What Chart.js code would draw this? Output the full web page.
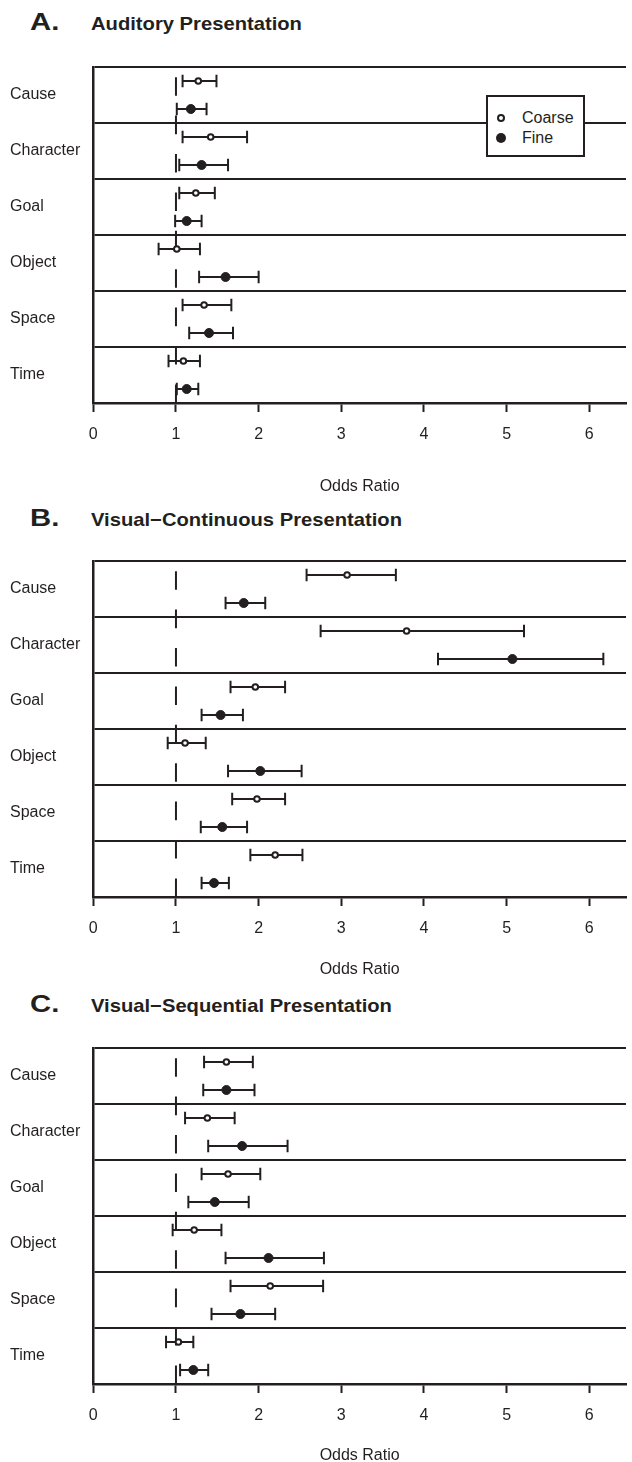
<!DOCTYPE html>
<html><head><meta charset="utf-8">
<script src="https://cdn.jsdelivr.net/npm/chart.js@4.4.1/dist/chart.umd.min.js"></script>
<style>
html,body{margin:0;padding:0;background:#fff;}
#page{position:relative;width:632px;height:1462px;overflow:hidden;font-family:'Liberation Sans',Arial,Helvetica,sans-serif;color:#231f20;background:#fff;}
canvas{position:absolute;left:0;}
.lab{position:absolute;font-weight:bold;white-space:nowrap;transform-origin:0 0;line-height:1;}
.letter{font-size:24px;left:30px;transform:scaleX(1.22);}
.ttl{font-size:18.6px;left:91px;transform:scaleX(1.086);}
.legend{position:absolute;left:486px;top:95px;width:99px;height:62px;box-sizing:border-box;border:2px solid #231f20;background:#fff;font-size:16px;}
.legend .mk{position:absolute;box-sizing:border-box;border-radius:50%;}
.legend .txt{position:absolute;left:34px;line-height:20px;white-space:nowrap;}
</style>
</head>
<body>
<div id="page">
  <div class="lab letter" id="tA">A.</div><div class="lab ttl" id="sA">Auditory Presentation</div>
  <div class="lab letter" id="tB">B.</div><div class="lab ttl" id="sB">Visual−Continuous Presentation</div>
  <div class="lab letter" id="tC">C.</div><div class="lab ttl" id="sC">Visual−Sequential Presentation</div>
  <canvas id="cA"></canvas>
  <canvas id="cB"></canvas>
  <canvas id="cC"></canvas>
  <div class="legend">
    <span class="mk" style="left:9px;top:17px;width:8px;height:8px;border:2px solid #231f20;background:#fff;"></span>
    <span class="txt" style="top:11px;">Coarse</span>
    <span class="mk" style="left:8px;top:36px;width:10px;height:10px;background:#231f20;"></span>
    <span class="txt" style="top:31px;">Fine</span>
  </div>
</div>
<script>
// ---------- data ----------
const categories = ['Cause', 'Character', 'Goal', 'Object', 'Space', 'Time'];
const xTickValues = [0, 1, 2, 3, 4, 5, 6];
const referenceOR = 1;
const seriesNames = ['Coarse', 'Fine'];
const panelTitles = ['Auditory Presentation', 'Visual−Continuous Presentation', 'Visual−Sequential Presentation'];

// A. Auditory
const audCoarseOR = [1.27, 1.42, 1.24, 1.01, 1.34, 1.09];
const audCoarseLo = [1.08, 1.08, 1.04, 0.79, 1.08, 0.91];
const audCoarseHi = [1.49, 1.86, 1.47, 1.29, 1.67, 1.29];
const audFineOR   = [1.18, 1.31, 1.13, 1.60, 1.40, 1.13];
const audFineLo   = [1.01, 1.04, 0.99, 1.28, 1.16, 1.01];
const audFineHi   = [1.37, 1.63, 1.31, 2.00, 1.69, 1.27];

// B. Visual-Continuous
const vcCoarseOR = [3.07, 3.79, 1.96, 1.11, 1.98, 2.20];
const vcCoarseLo = [2.58, 2.75, 1.66, 0.90, 1.68, 1.90];
const vcCoarseHi = [3.66, 5.21, 2.32, 1.36, 2.32, 2.53];
const vcFineOR   = [1.82, 5.07, 1.54, 2.02, 1.56, 1.46];
const vcFineLo   = [1.60, 4.17, 1.31, 1.63, 1.30, 1.31];
const vcFineHi   = [2.08, 6.17, 1.81, 2.52, 1.86, 1.64];

// C. Visual-Sequential
const vsCoarseOR = [1.61, 1.38, 1.63, 1.22, 2.14, 1.03];
const vsCoarseLo = [1.34, 1.11, 1.31, 0.96, 1.66, 0.88];
const vsCoarseHi = [1.93, 1.71, 2.02, 1.55, 2.78, 1.21];
const vsFineOR   = [1.61, 1.80, 1.47, 2.12, 1.78, 1.21];
const vsFineLo   = [1.33, 1.39, 1.15, 1.60, 1.43, 1.05];
const vsFineHi   = [1.95, 2.35, 1.88, 2.79, 2.20, 1.39];

// ---------- layout ----------
const INK = '#231f20';
const SLOTS = 4; // each category spans 4 slot units: coarse at +1, fine at +3
const Y_MAX = categories.length * SLOTS;
const X_MAX = 6.444;
const PLOT_H = 336;
const boxTops = [66.7, 561.3, 1048.3];
const axisHeights = [93, 82, 81];
const titleBaselines = [30.7, 526.7, 1012.5];

Chart.defaults.font.family = "'Liberation Sans', Arial, Helvetica, sans-serif";
Chart.defaults.color = INK;

const errorBarPlugin = {
  id: 'errorBars',
  beforeDatasetsDraw(chart) {
    const {ctx, chartArea, scales: {x, y}} = chart;
    ctx.save();
    ctx.beginPath();
    ctx.rect(chartArea.left, chartArea.top, chartArea.right - chartArea.left, chartArea.bottom - chartArea.top);
    ctx.clip();
    ctx.strokeStyle = INK;
    ctx.lineWidth = 2;
    chart.data.datasets.forEach(ds => {
      if (!ds.errLo) return;
      ds.data.forEach((p, i) => {
        const x0 = x.getPixelForValue(ds.errLo[i]);
        const x1 = x.getPixelForValue(ds.errHi[i]);
        const yp = y.getPixelForValue(p.y);
        const h = 6.3;
        ctx.beginPath();
        ctx.moveTo(x0, yp); ctx.lineTo(x1, yp);
        ctx.moveTo(x0, yp - h); ctx.lineTo(x0, yp + h);
        ctx.moveTo(x1, yp - h); ctx.lineTo(x1, yp + h);
        ctx.stroke();
      });
    });
    ctx.restore();
  }
};

function makePanel(canvasId, idx, cOR, cLo, cHi, fOR, fLo, fHi) {
  const canvas = document.getElementById(canvasId);
  const axisH = axisHeights[idx];
  canvas.width = 632;
  canvas.height = 10 + PLOT_H + axisH;
  canvas.style.top = (boxTops[idx] - 10) + 'px';
  const coarsePts = categories.map((c, i) => ({x: cOR[i], y: i * SLOTS + 1}));
  const finePts = categories.map((c, i) => ({x: fOR[i], y: i * SLOTS + 3}));
  const yTickValues = [];
  for (let v = 0; v <= Y_MAX; v += 2) yTickValues.push(v);
  return new Chart(canvas, {
    type: 'scatter',
    data: {
      datasets: [
        {label: seriesNames[0], data: coarsePts, errLo: cLo, errHi: cHi,
         pointRadius: 2.8, borderWidth: 2, borderColor: INK, backgroundColor: '#fff', pointStyle: 'circle'},
        {label: seriesNames[1], data: finePts, errLo: fLo, errHi: fHi,
         pointRadius: 4.5, borderWidth: 1, borderColor: INK, backgroundColor: INK, pointStyle: 'circle'},
        {label: 'OR = 1', type: 'line', data: [{x: referenceOR, y: Y_MAX}, {x: referenceOR, y: 0}],
         borderColor: INK, borderWidth: 2, borderDash: [18.6, 19.8], pointRadius: 0, fill: false, tension: 0}
      ]
    },
    options: {
      responsive: false,
      animation: false,
      events: [],
      devicePixelRatio: 1,
      layout: {padding: {left: 10, top: 10, right: 0, bottom: 0}},
      plugins: {legend: {display: false}, tooltip: {enabled: false}, title: {display: false}},
      scales: {
        x: {
          type: 'linear', min: 0, max: X_MAX,
          afterBuildTicks: s => { s.ticks = xTickValues.map(v => ({value: v})); },
          afterFit: s => { s.height = axisH; },
          ticks: {color: INK, font: {size: 16}, padding: 13, maxRotation: 0, autoSkip: false},
          grid: {drawOnChartArea: false, drawTicks: true, tickLength: 9, tickWidth: 2, tickColor: INK, color: INK},
          border: {display: true, color: INK, width: 2.5},
          title: {display: true, text: 'Odds Ratio', color: INK, font: {size: 16}, padding: {top: 0, bottom: 0}}
        },
        y: {
          type: 'linear', reverse: true, min: 0, max: Y_MAX,
          afterBuildTicks: s => { s.ticks = yTickValues.map(v => ({value: v})); },
          afterFit: s => { s.width = 83.3; },
          ticks: {color: INK, font: {size: 16}, padding: 0, crossAlign: 'far', autoSkip: false,
                  callback: v => (v % SLOTS === 2 ? categories[(v - 2) / SLOTS] : '')},
          grid: {drawTicks: false, lineWidth: 2,
                 color: c => (c.tick && c.tick.value % SLOTS === 0 ? INK : 'rgba(0,0,0,0)')},
          border: {display: true, color: INK, width: 2.5}
        }
      }
    },
    plugins: [errorBarPlugin]
  });
}

// titles
['A', 'B', 'C'].forEach((k, i) => {
  document.getElementById('t' + k).style.top = (titleBaselines[i] - 20.3) + 'px';
  document.getElementById('s' + k).style.top = (titleBaselines[i] - 15.74) + 'px';
  document.getElementById('s' + k).textContent = panelTitles[i];
});

makePanel('cA', 0, audCoarseOR, audCoarseLo, audCoarseHi, audFineOR, audFineLo, audFineHi);
makePanel('cB', 1, vcCoarseOR, vcCoarseLo, vcCoarseHi, vcFineOR, vcFineLo, vcFineHi);
makePanel('cC', 2, vsCoarseOR, vsCoarseLo, vsCoarseHi, vsFineOR, vsFineLo, vsFineHi);
</script>
</body></html>
